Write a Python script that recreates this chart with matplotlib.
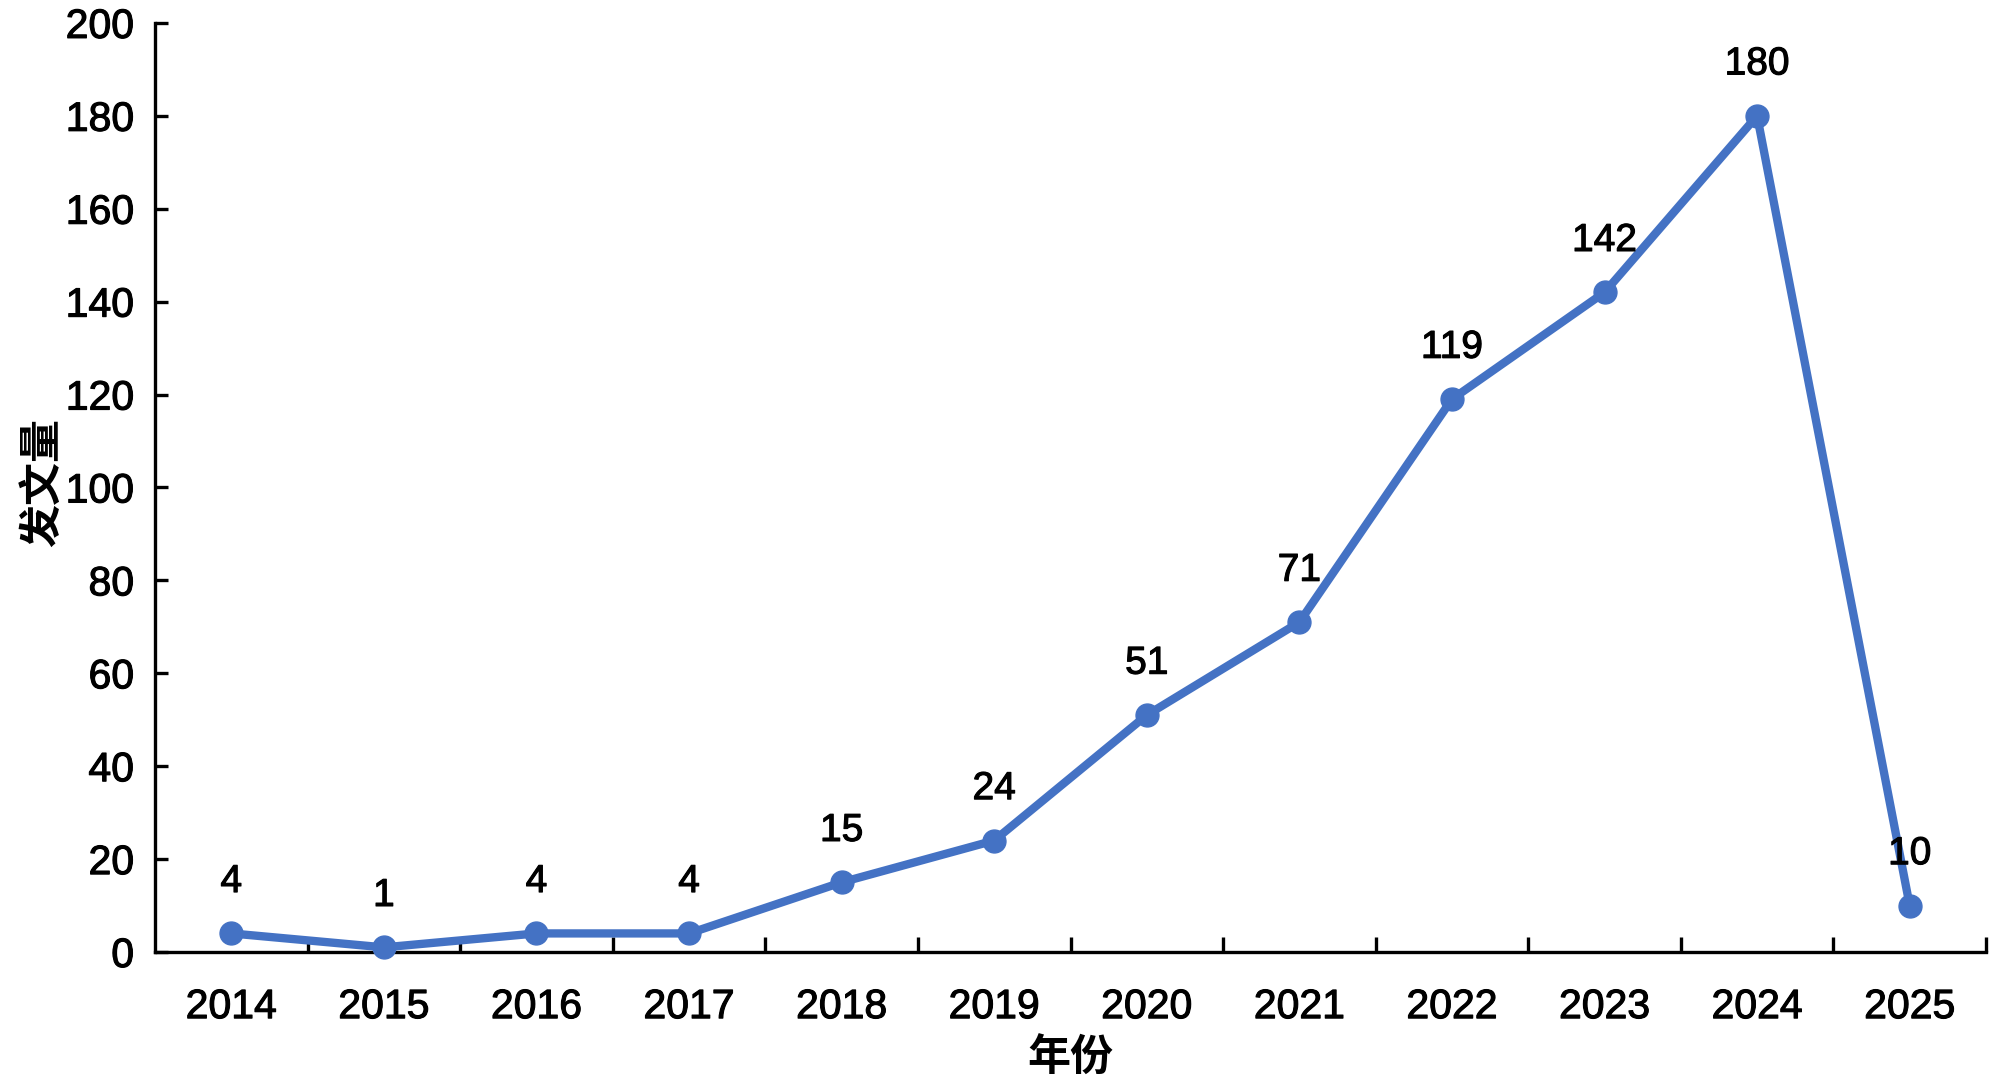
import matplotlib
matplotlib.use("Agg")
import matplotlib.pyplot as plt
import matplotlib.patheffects as pe
import numpy as np

years = ["2014", "2015", "2016", "2017", "2018", "2019", "2020", "2021", "2022", "2023", "2024", "2025"]
counts = [4, 1, 4, 4, 15, 24, 51, 71, 119, 142, 180, 10]
yticks = [0, 20, 40, 60, 80, 100, 120, 140, 160, 180, 200]

plt.rcParams['font.family'] = ['Liberation Sans', 'Noto Sans CJK SC', 'DejaVu Sans']

fig = plt.figure(figsize=(20, 10.91), dpi=100)
ax = fig.add_axes([0.0775, 0.1274, 0.9155, 0.8516])

heavy = [pe.withStroke(linewidth=0.8, foreground='black')]

x = np.arange(len(years))
color = "#4472C4"
ax.plot(x, counts, color=color, linewidth=6, marker='o', markersize=16.5,
        zorder=3, clip_on=False, solid_joinstyle='round')

for xi, v in zip(x, counts):
    ax.annotate(str(v), (xi, v), xytext=(0, 37), textcoords='offset points',
                ha='center', va='center', fontsize=28, color='black',
                path_effects=heavy)

ax.set_xlim(-0.5, len(years) - 0.5)
ax.set_ylim(0, 200)
ax.set_yticks(yticks)
ax.set_yticklabels([str(t) for t in yticks], fontsize=29.5)

ax.set_xticks(x)
ax.set_xticklabels(years, fontsize=29.5)
ax.set_xticks(np.arange(len(years)) + 0.5, minor=True)
ax.tick_params(axis='x', which='major', length=0, pad=26)
ax.tick_params(axis='x', which='minor', direction='in', length=11, width=2.4)
ax.tick_params(axis='y', which='major', direction='in', length=9, width=2.4, pad=15)
for lab in ax.get_xticklabels() + ax.get_yticklabels():
    lab.set_path_effects(heavy)

for s in ['top', 'right']:
    ax.spines[s].set_visible(False)
for s in ['left', 'bottom']:
    ax.spines[s].set_linewidth(2.4)

ax.set_xlabel("年份", fontsize=31, fontweight='bold', family=['Noto Sans CJK SC'])
ax.xaxis.set_label_coords(0.5, -0.114)
ax.xaxis.label.set_va('center')
ax.set_ylabel("发文量", fontsize=31, fontweight='bold', family=['Noto Sans CJK SC'])
ax.yaxis.set_label_coords(-0.0617, 0.505)
ax.yaxis.label.set_va('center')

fig.savefig("out.png", dpi=100)
